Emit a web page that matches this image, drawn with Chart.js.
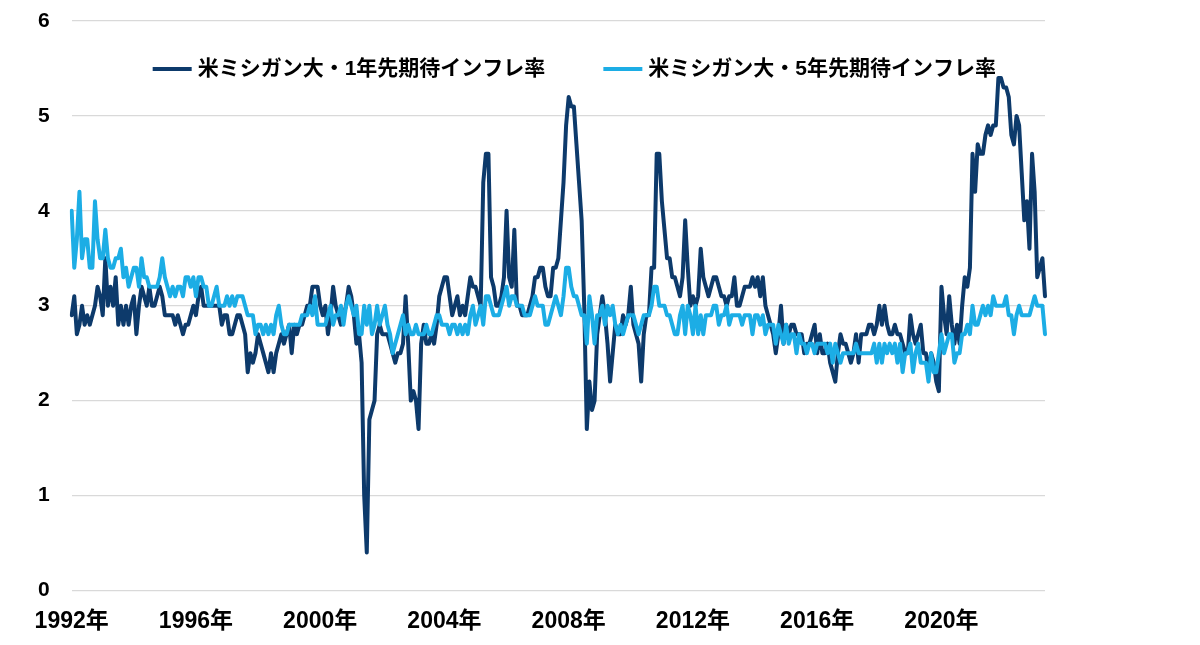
<!DOCTYPE html>
<html lang="ja">
<head>
<meta charset="utf-8">
<title>米ミシガン大 期待インフレ率</title>
<script src="https://cdn.jsdelivr.net/npm/chart.js@4.4.0/dist/chart.umd.min.js"></script>
<style>
  html, body { margin: 0; padding: 0; background: #fff; }
  #wrap { width: 1200px; height: 645px; }
</style>
</head>
<body>
<div id="wrap"><canvas id="chart" width="1200" height="645"></canvas></div>
<script>
//monthly series, first point 1992/5, last point 2023/9
const startYear = 1992;
const startMonth = 5;

//1-year ahead expected inflation (%)
const expect1y = [
  2.9, 3.1, 2.7, 2.8, 3.0, 2.8, 2.9, 2.8, 2.9, 3.0, 3.2, 3.1,
  2.9, 3.5, 3.0, 3.2, 3.0, 3.3, 2.8, 3.0, 2.8, 3.0, 2.8, 3.0,
  3.1, 2.7, 3.0, 3.2, 3.1, 3.0, 3.2, 3.0, 3.0, 3.1, 3.2, 3.1,
  2.9, 2.9, 2.9, 2.9, 2.8, 2.9, 2.8, 2.7, 2.8, 2.8, 2.9, 3.0,
  2.9, 3.1, 3.2, 3.0, 3.0, 3.0, 3.0, 3.0, 3.0, 3.0, 2.8, 2.9,
  2.9, 2.7, 2.7, 2.8, 2.9, 2.9, 2.8, 2.7, 2.3, 2.5, 2.4, 2.5,
  2.7, 2.6, 2.5, 2.4, 2.3, 2.5, 2.3, 2.5, 2.6, 2.7, 2.6, 2.7,
  2.8, 2.5, 2.8, 2.7, 2.8, 2.8, 2.9, 3.0, 3.0, 3.2, 3.2, 3.2,
  3.0, 2.9, 3.0, 2.7, 2.9, 3.2, 3.0, 2.9, 2.8, 2.9, 3.0, 3.2,
  3.1, 2.9, 2.6, 2.7, 2.4, 1.0, 0.4, 1.8, 1.9, 2.0, 2.7, 2.8,
  2.7, 2.7, 2.7, 2.6, 2.5, 2.4, 2.5, 2.5, 2.6, 3.1, 2.6, 2.0,
  2.1, 2.0, 1.7, 2.6, 2.8, 2.6, 2.6, 2.7, 2.6, 2.8, 3.1, 3.2,
  3.3, 3.3, 3.1, 2.9, 3.0, 3.1, 2.9, 3.0, 2.9, 3.1, 3.3, 3.2,
  3.2, 3.1, 3.0, 4.3, 4.6, 4.6, 3.3, 3.2, 3.0, 3.0, 3.1, 3.3,
  4.0, 3.3, 3.2, 3.8, 3.0, 3.0, 2.9, 2.9, 2.9, 3.0, 3.1, 3.3,
  3.3, 3.4, 3.4, 3.2, 3.1, 3.1, 3.4, 3.4, 3.5, 3.9, 4.3, 4.9,
  5.2, 5.1, 5.1, 4.7, 4.3, 3.9, 3.0, 1.7, 2.2, 1.9, 2.0, 2.7,
  2.9, 3.1, 2.9, 2.6, 2.2, 2.5, 2.8, 2.7, 2.7, 2.9, 2.8, 2.9,
  3.2, 2.8, 2.7, 2.6, 2.2, 2.7, 2.9, 2.9, 3.4, 3.4, 4.6, 4.6,
  4.1, 3.8, 3.5, 3.5, 3.3, 3.3, 3.2, 3.1, 3.3, 3.9, 3.4, 3.0,
  3.1, 3.0, 3.1, 3.6, 3.3, 3.2, 3.1, 3.2, 3.3, 3.3, 3.2, 3.1,
  3.1, 3.0, 3.1, 3.1, 3.3, 3.0, 3.0, 3.1, 3.2, 3.2, 3.2, 3.3,
  3.2, 3.3, 3.1, 3.3, 3.0, 2.9, 2.8, 2.7, 2.5, 2.7, 3.0, 2.6,
  2.8, 2.7, 2.8, 2.8, 2.7, 2.7, 2.7, 2.5, 2.6, 2.6, 2.7, 2.8,
  2.5, 2.7, 2.5, 2.5, 2.6, 2.4, 2.3, 2.2, 2.5, 2.7, 2.6, 2.6,
  2.5, 2.4, 2.5, 2.7, 2.4, 2.7, 2.7, 2.7, 2.8, 2.8, 2.7, 2.8,
  3.0, 2.8, 3.0, 2.8, 2.7, 2.7, 2.8, 2.7,
  2.7, 2.6, 2.5, 2.5, 2.9, 2.7, 2.6, 2.7, 2.8, 2.5, 2.5, 2.3,
  2.5, 2.4, 2.2, 2.1, 3.2, 2.9, 2.7, 3.1, 2.8, 2.6, 2.8, 2.6,
  3.0, 3.3, 3.2, 3.4, 4.6, 4.2, 4.7, 4.6, 4.6, 4.8, 4.9, 4.8,
  4.9, 4.9, 5.4, 5.4, 5.3, 5.3, 5.2, 4.8, 4.7, 5.0, 4.9, 4.4,
  3.9, 4.1, 3.6, 4.6, 4.2, 3.3, 3.4, 3.5, 3.1
];

//5-year ahead expected inflation (%)
const expect5y = [
  4.0, 3.4, 3.7, 4.2, 3.5, 3.7, 3.7, 3.4, 3.4, 4.1, 3.7, 3.5,
  3.5, 3.8, 3.5, 3.4, 3.4, 3.5, 3.5, 3.6, 3.3, 3.4, 3.2, 3.3,
  3.4, 3.4, 3.2, 3.5, 3.3, 3.3, 3.2, 3.2, 3.2, 3.2, 3.3, 3.5,
  3.3, 3.2, 3.1, 3.2, 3.1, 3.2, 3.2, 3.1, 3.3, 3.3, 3.2, 3.3,
  3.1, 3.3, 3.3, 3.2, 3.2, 3.0, 3.0, 3.1, 3.2, 3.0, 3.0, 3.0,
  3.1, 3.0, 3.1, 3.0, 3.1, 3.1, 3.1, 3.0, 2.9, 2.9, 2.9, 2.7,
  2.8, 2.8, 2.7, 2.8, 2.7, 2.8, 2.7, 2.9, 3.0, 2.8, 2.7, 2.7,
  2.8, 2.8, 2.8, 2.8, 2.8, 2.9, 2.9, 2.9, 3.0, 2.9, 3.1, 2.8,
  2.8, 2.8, 2.8, 2.9, 3.0, 2.8, 2.9, 2.9, 3.0, 2.8, 3.0, 3.1,
  3.0, 2.9, 3.0, 2.7, 2.7, 3.0, 2.8, 3.0, 2.7, 2.8, 3.0, 2.8,
  2.9, 3.0, 2.8, 2.7, 2.5, 2.6, 2.7, 2.8, 2.9, 2.7, 2.8, 2.7,
  2.7, 2.8, 2.7, 2.7, 2.7, 2.8, 2.7, 2.7, 2.8, 2.9, 2.9, 2.8,
  2.8, 2.8, 2.7, 2.8, 2.8, 2.7, 2.8, 2.7, 2.8, 2.7, 2.9, 3.0,
  2.8, 2.9, 3.0, 2.8, 3.1, 3.1, 3.0, 2.9, 2.9, 2.9, 3.0, 3.1,
  3.2, 3.0, 3.1, 3.1, 3.0, 3.0, 3.0, 2.9, 2.9, 2.9, 3.0, 3.1,
  3.0, 3.0, 3.0, 2.8, 2.8, 2.9, 3.0, 3.1, 3.0, 2.9, 3.1, 3.4,
  3.4, 3.2, 3.1, 3.1, 3.0, 2.9, 2.9, 2.6, 3.1, 2.9, 2.6, 2.9,
  2.9, 3.0, 2.8, 3.0, 2.9, 3.0, 2.8, 2.7, 2.8, 2.7, 2.8, 2.9,
  2.9, 2.9, 2.8, 2.7, 2.8, 2.9, 2.9, 2.9, 3.0, 3.2, 3.2, 3.0,
  3.0, 3.0, 2.9, 2.9, 2.8, 2.7, 2.7, 2.9, 3.0, 2.7, 3.0, 2.9,
  2.7, 3.0, 2.7, 2.9, 2.7, 2.9, 2.9, 2.9, 3.0, 3.0, 2.8, 2.9,
  2.9, 3.0, 2.8, 2.9, 2.9, 2.9, 2.9, 2.8, 2.9, 2.9, 2.9, 2.7,
  2.9, 2.9, 2.8, 2.9, 2.7, 2.8, 2.8, 2.8, 2.6, 2.8, 2.7, 2.6,
  2.8, 2.6, 2.7, 2.7, 2.5, 2.7, 2.6, 2.6, 2.5, 2.6, 2.6, 2.5,
  2.6, 2.6, 2.6, 2.6, 2.5, 2.6, 2.4, 2.6, 2.5, 2.4, 2.5, 2.5,
  2.5, 2.5, 2.5, 2.6, 2.5, 2.5, 2.5, 2.5, 2.5, 2.5, 2.6, 2.4,
  2.6, 2.4, 2.6, 2.5, 2.6, 2.5, 2.6, 2.4,
  2.6, 2.3, 2.5, 2.5, 2.6, 2.3, 2.5, 2.6, 2.4, 2.4, 2.4, 2.2,
  2.5, 2.3, 2.3, 2.5, 2.7, 2.5, 2.6, 2.7, 2.7, 2.4, 2.5, 2.5,
  2.7, 2.7, 2.8, 2.7, 3.0, 2.8, 2.8, 2.9, 3.0, 2.9, 3.0, 2.9,
  3.1, 3.0, 3.0, 3.0, 3.0, 3.1, 2.9, 2.9, 2.7, 2.9, 3.0, 2.9,
  2.9, 2.9, 2.9, 3.0, 3.1, 3.0, 3.0, 3.0, 2.7
];

//axis tick labels, one every 48 months
const tickYears = ['1992年', '1996年', '2000年', '2004年', '2008年', '2012年', '2016年', '2020年'];
const tickEvery = 48;

const seriesNames = ['米ミシガン大・1年先期待インフレ率', '米ミシガン大・5年先期待インフレ率'];
const seriesColors = ['#0d3a6b', '#1cade5'];

//month categories built from the start month
const categories = expect1y.map((_, i) => {
  const m = startMonth - 1 + i;
  return `${startYear + Math.floor(m / 12)}/${(m % 12) + 1}`;
});

const fontFamily = '"Liberation Sans", "Noto Sans CJK JP", sans-serif';
const labelFont = { family: fontFamily, size: 21, weight: 'bold' };
const yearFont = { family: fontFamily, size: 23, weight: 'bold' };

//legend drawn inside the plot area, above the lines
const insideLegend = {
  id: 'insideLegend',
  afterDatasetsDraw(chart) {
    const { ctx, chartArea } = chart;
    ctx.save();
    ctx.font = `bold ${labelFont.size}px ${fontFamily}`;
    ctx.textBaseline = 'middle';
    ctx.textAlign = 'left';
    let x = chartArea.left + 81;
    const y = chartArea.top + 48;
    chart.data.datasets.forEach((ds) => {
      ctx.strokeStyle = ds.borderColor;
      ctx.lineWidth = 4;
      ctx.beginPath();
      ctx.moveTo(x, y);
      ctx.lineTo(x + 39, y);
      ctx.stroke();
      ctx.fillStyle = '#000';
      ctx.fillText(ds.label, x + 45, y);
      x += 45 + ctx.measureText(ds.label).width + 58;
    });
    ctx.restore();
  }
};

new Chart(document.getElementById('chart'), {
  type: 'line',
  data: {
    labels: categories,
    datasets: [
      {
        label: seriesNames[0],
        data: expect1y,
        borderColor: seriesColors[0],
        backgroundColor: seriesColors[0],
        order: 2,
      },
      {
        label: seriesNames[1],
        data: expect5y,
        borderColor: seriesColors[1],
        backgroundColor: seriesColors[1],
        order: 1,
      },
    ],
  },
  options: {
    responsive: false,
    animation: false,
    layout: { padding: { left: 38, right: 155, top: 21, bottom: 1 } },
    elements: {
      point: { radius: 0 },
      line: { borderWidth: 4, tension: 0, borderJoinStyle: 'round', borderCapStyle: 'round' },
    },
    plugins: {
      legend: { display: false },
      tooltip: { enabled: false },
    },
    scales: {
      x: {
        grid: { display: false },
        border: { display: false },
        ticks: {
          autoSkip: false,
          maxRotation: 0,
          padding: 9,
          color: '#000',
          font: yearFont,
          callback: (v, i) => (i % tickEvery === 0 ? tickYears[i / tickEvery] : null),
        },
      },
      y: {
        min: 0,
        max: 6,
        border: { display: false },
        //invisible tick marks keep the gap between labels and plot
        grid: { color: '#d9d9d9', lineWidth: 1.3, drawTicks: true, tickLength: 22, tickColor: 'rgba(0,0,0,0)' },
        ticks: { stepSize: 1, padding: 0, color: '#000', font: labelFont },
      },
    },
  },
  plugins: [insideLegend],
});
</script>
</body>
</html>
